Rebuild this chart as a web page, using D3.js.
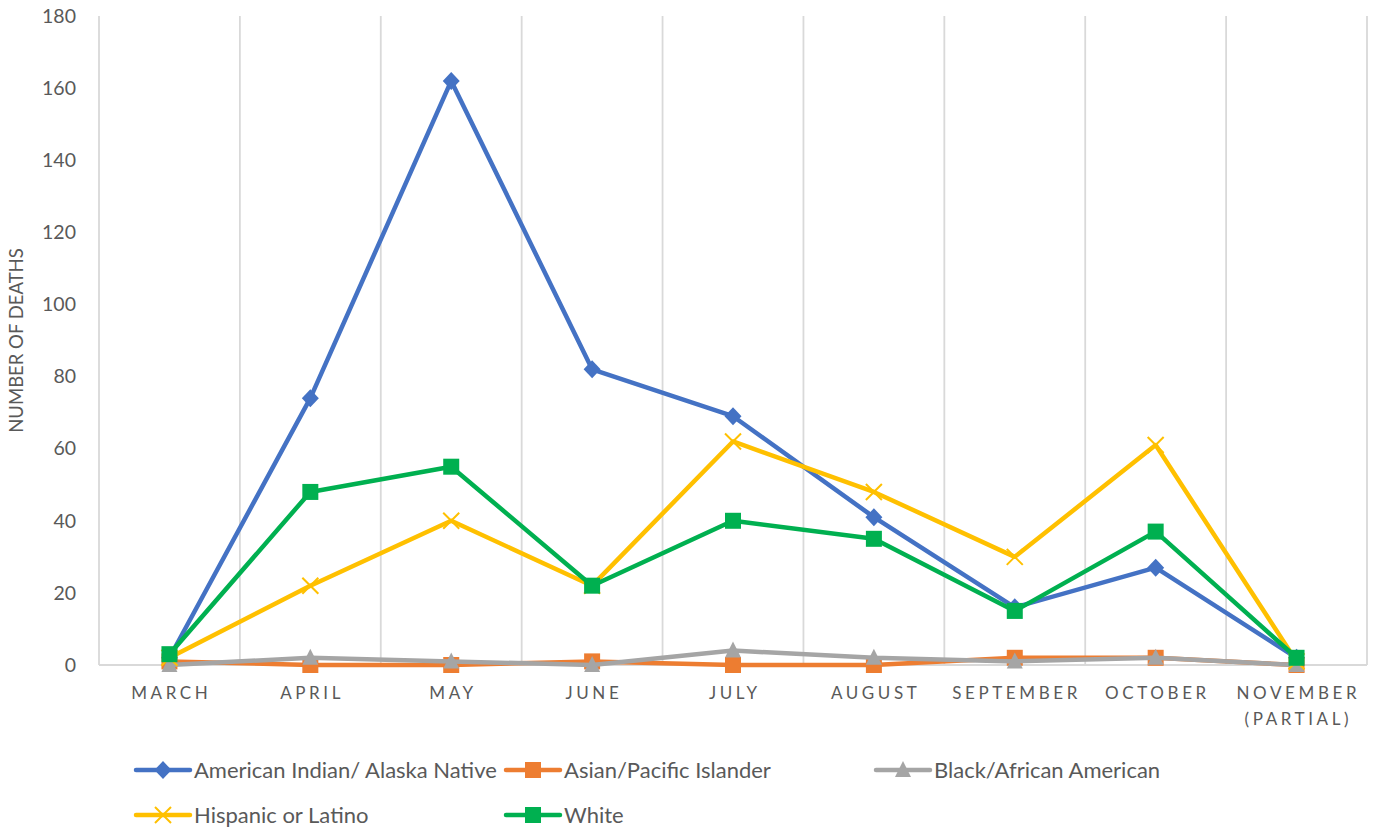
<!DOCTYPE html>
<html>
<head>
<meta charset="utf-8">
<script src="https://cdn.jsdelivr.net/npm/d3@7"></script>
<style>
  body { margin: 0; background: #fff; }
  svg { font-family: Lato, "Open Sans", sans-serif; }
</style>
</head>
<body>
<svg id="chart" width="1376" height="828"></svg>
<script>
// months along the x axis
var months = ["MARCH", "APRIL", "MAY", "JUNE", "JULY", "AUGUST", "SEPTEMBER", "OCTOBER", "NOVEMBER|(PARTIAL)"];

var amIndian = [2, 74, 162, 82, 69, 41, 16, 27, 2];
var asian    = [1, 0, 0, 1, 0, 0, 2, 2, 0];
var black    = [0, 2, 1, 0, 4, 2, 1, 2, 0];
var hispanic = [2, 22, 40, 22, 62, 48, 30, 61, 1];
var white    = [3, 48, 55, 22, 40, 35, 15, 37, 2];

var yTicks = [0, 20, 40, 60, 80, 100, 120, 140, 160, 180];

var series = [
  {name: "American Indian/ Alaska Native", values: amIndian, color: "#4472C4", marker: "diamond"},
  {name: "Asian/Pacific Islander", values: asian, color: "#ED7D31", marker: "square"},
  {name: "Black/African American", values: black, color: "#A5A5A5", marker: "triangle"},
  {name: "Hispanic or Latino", values: hispanic, color: "#FFC000", marker: "x"},
  {name: "White", values: white, color: "#00B050", marker: "square"}
];

let svg = d3.select("#chart");
var plotLeft = 99, plotRight = 1367, plotTop = 16, plotBottom = 665;

var x = d3.scaleBand().domain(months).range([plotLeft, plotRight]);
var y = d3.scaleLinear().domain([0, 180]).range([plotBottom, plotTop]);

/* vertical grid lines between categories */
let edges = months.map(function(m) { return x(m); }).concat([plotRight]);
svg.selectAll("line.grid").data(edges).enter().append("line")
    .attr("class", "grid")
    .attr("x1", d => d).attr("x2", d => d)
    .attr("y1", plotTop).attr("y2", plotBottom)
    .attr("stroke", "#D9D9D9").attr("stroke-width", 1.8);

svg.append("line")
    .attr("x1", plotLeft).attr("x2", plotRight)
    .attr("y1", plotBottom).attr("y2", plotBottom)
    .attr("stroke", "#D9D9D9").attr("stroke-width", 1.8);

/* y tick labels */
svg.selectAll("text.ytick").data(yTicks).enter().append("text")
    .attr("class", "ytick")
    .attr("x", 76)
    .attr("y", d => y(d))
    .attr("dy", "0.35em")
    .attr("text-anchor", "end")
    .attr("fill", "#595959")
    .style("font-size", "19.5px")
    .text(d => d);

svg.append("text")
    .attr("transform", "translate(23," + (plotTop + plotBottom) / 2 + ") rotate(-90)")
    .attr("text-anchor", "middle")
    .attr("fill", "#595959")
    .style("font-size", "18.5px")
    .text("NUMBER OF DEATHS");

/* month labels, letter spaced */
months.forEach(function(m) {
    let t = svg.append("text")
        .attr("x", x(m) + x.bandwidth() / 2)
        .attr("y", 699)
        .attr("text-anchor", "middle")
        .attr("fill", "#595959")
        .style("font-size", "17px")
        .style("letter-spacing", "3.6px");
    m.split("|").forEach(function(part, i) {
        t.append("tspan")
            .attr("x", x(m) + x.bandwidth() / 2 + 1.8)
            .attr("dy", i == 0 ? 0 : 26)
            .text(part);
    });
});

function drawMarker(g, type, cx, cy, color) {
    if (type == "diamond") {
        g.append("path")
            .attr("d", `M${cx},${cy - 9}L${cx + 8.5},${cy}L${cx},${cy + 9}L${cx - 8.5},${cy}Z`)
            .attr("fill", color);
    } else if (type == "square") {
        g.append("rect")
            .attr("x", cx - 8).attr("y", cy - 8)
            .attr("width", 16).attr("height", 16)
            .attr("fill", color);
    } else if (type == "triangle") {
        g.append("path")
            .attr("d", `M${cx},${cy - 9}L${cx + 8},${cy + 7}L${cx - 8},${cy + 7}Z`)
            .attr("fill", color);
    } else if (type == "x") {
        g.append("path")
            .attr("d", `M${cx - 8},${cy - 8}L${cx + 8},${cy + 8}M${cx - 8},${cy + 8}L${cx + 8},${cy - 8}`)
            .attr("stroke", color).attr("stroke-width", 2).attr("fill", "none");
    }
}

let line = d3.line()
    .x((d, i) => x(months[i]) + x.bandwidth() / 2)
    .y(d => y(d));

series.forEach(function(s) {
    let g = svg.append("g");
    g.append("path")
        .attr("d", line(s.values))
        .attr("fill", "none")
        .attr("stroke", s.color)
        .attr("stroke-width", 4.5)
        .attr("stroke-linejoin", "round")
        .attr("stroke-linecap", "round");
    s.values.forEach(function(v, i) {
        drawMarker(g, s.marker, x(months[i]) + x.bandwidth() / 2, y(v), s.color);
    });
});

/* legend */
var legendPos = [[136, 770], [506, 770], [876, 770], [136, 815], [506, 815]];
series.forEach(function(s, i) {
    let lx = legendPos[i][0], ly = legendPos[i][1];
    let g = svg.append("g");
    g.append("line")
        .attr("x1", lx).attr("x2", lx + 54)
        .attr("y1", ly).attr("y2", ly)
        .attr("stroke", s.color).attr("stroke-width", 4.5)
        .attr("stroke-linecap", "round");
    drawMarker(g, s.marker, lx + 27, ly, s.color);
    g.append("text")
        .attr("x", lx + 58)
        .attr("y", ly)
        .attr("dy", "0.35em")
        .attr("fill", "#595959")
        .style("font-size", "22px")
        .text(s.name);
});
</script>
</body>
</html>
